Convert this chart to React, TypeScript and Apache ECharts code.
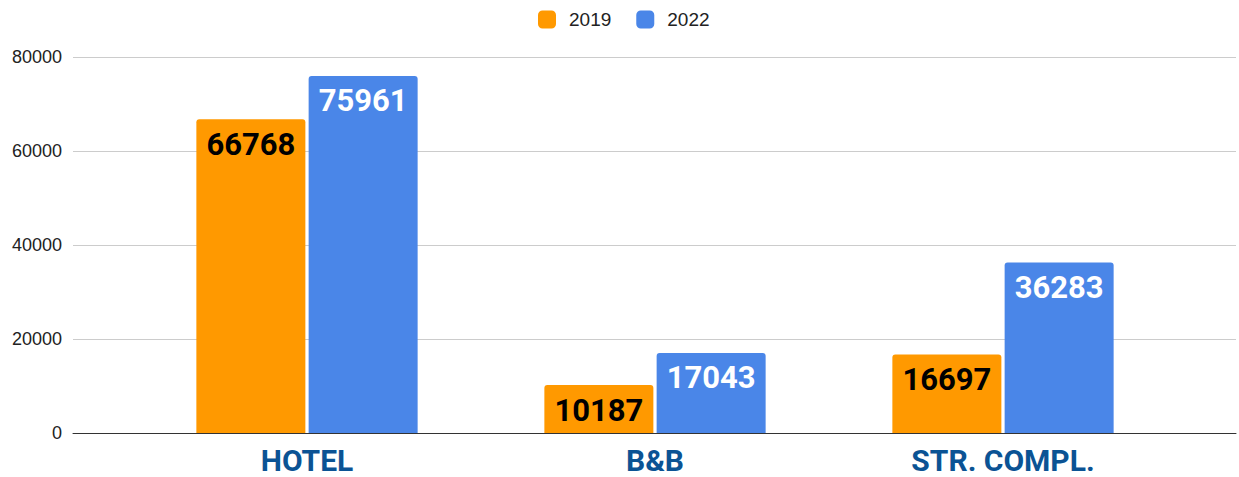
import React, { useEffect, useRef } from "react";
import * as echarts from "echarts";

const categories = ["HOTEL", "B&B", "STR. COMPL."];
const seriesNames = ["2019", "2022"];
const values2019 = [66768, 10187, 16697];
const values2022 = [75961, 17043, 36283];
const yMin = 0;
const yMax = 80000;
const yInterval = 20000;

export default function App() {
  const ref = useRef<HTMLDivElement>(null);
  useEffect(() => {
    if (!ref.current) return;
    const chart = echarts.init(ref.current, undefined, { renderer: "svg" });
    const valueLabel = (color: string) => ({
      show: true,
      position: "insideTop",
      distance: 10,
      color,
      fontFamily: "Roboto",
      fontWeight: "bold",
      fontSize: 31,
      lineHeight: 30,
    });
    chart.setOption({
      animation: false,
      backgroundColor: "#ffffff",
      legend: {
        top: 5,
        left: 533,
        padding: [5, 5, 5, 5],
        itemWidth: 18,
        itemHeight: 18,
        itemGap: 25,
        icon: "roundRect",
        data: seriesNames,
        textStyle: {
          fontFamily: "Liberation Sans",
          fontSize: 19,
          color: "#222222",
          padding: [0, 0, 0, 8],
        },
      },
      grid: [
        { left: 73, right: 3, top: 57, bottom: 44 },
        { left: 133, right: 62, top: 57, bottom: 44 },
      ],
      xAxis: [
        {
          gridIndex: 0,
          type: "category",
          data: [""],
          axisLine: { show: true, lineStyle: { color: "#333333", width: 1 } },
          axisTick: { show: false },
          axisLabel: { show: false },
          splitLine: { show: false },
        },
        {
          gridIndex: 1,
          type: "category",
          data: categories,
          axisLine: { show: false },
          axisTick: { show: false },
          axisLabel: {
            margin: 13,
            color: "#0b5394",
            fontFamily: "Roboto",
            fontWeight: "bold",
            fontSize: 30,
            lineHeight: 28,
          },
        },
      ],
      yAxis: [
        {
          gridIndex: 0,
          type: "value",
          min: yMin,
          max: yMax,
          interval: yInterval,
          axisLine: { show: false },
          axisTick: { show: false },
          axisLabel: {
            margin: 11,
            color: "#222222",
            fontFamily: "Liberation Sans",
            fontSize: 18,
            formatter: (v: number) => String(v),
          },
          splitLine: { lineStyle: { color: "#cccccc", width: 1 } },
        },
        {
          gridIndex: 1,
          type: "value",
          min: yMin,
          max: yMax,
          interval: yInterval,
          show: false,
        },
      ],
      series: [
        {
          name: seriesNames[0],
          type: "bar",
          xAxisIndex: 1,
          yAxisIndex: 1,
          data: values2019,
          barWidth: 109,
          barGap: "3%",
          itemStyle: { color: "#ff9900", borderRadius: [3, 3, 0, 0] },
          label: valueLabel("#000000"),
        },
        {
          name: seriesNames[1],
          type: "bar",
          xAxisIndex: 1,
          yAxisIndex: 1,
          data: values2022,
          barWidth: 109,
          barGap: "3%",
          itemStyle: { color: "#4a86e8", borderRadius: [3, 3, 0, 0] },
          label: valueLabel("#ffffff"),
        },
      ],
    });
    return () => chart.dispose();
  }, []);
  return (
    <div
      ref={ref}
      style={{ position: "absolute", left: 0, top: 0, width: 1239, height: 477 }}
    />
  );
}
